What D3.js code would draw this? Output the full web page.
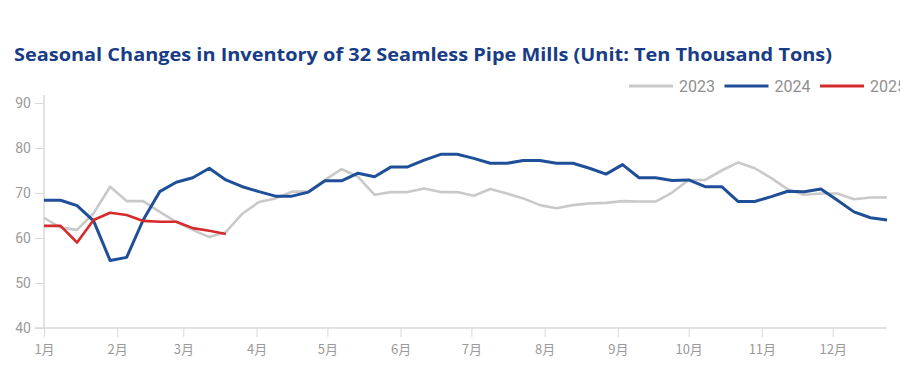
<!DOCTYPE html>
<html><head><meta charset="utf-8">
<script src="https://cdn.jsdelivr.net/npm/d3@7"></script>
<style>body{margin:0;background:#fff;}svg{display:block;}</style>
</head><body><svg id="c" width="900" height="383"></svg>
<script>
const title = "Seasonal Changes in Inventory of 32 Seamless Pipe Mills (Unit: Ten Thousand Tons)";
const seriesNames = ["2023", "2024", "2025"];
const seriesColors = ["#c9c9c9", "#1f4f98", "#d62b2b"];
const yTicks = [40, 50, 60, 70, 80, 90];
const v2023 = [64.5,62.3,61.8,65.5,71.4,68.2,68.2,65.8,63.6,61.8,60.2,61.3,65.4,68.0,68.8,70.3,70.3,72.9,75.3,73.6,69.6,70.2,70.2,71.0,70.2,70.2,69.4,70.9,69.9,68.8,67.3,66.6,67.3,67.7,67.8,68.2,68.1,68.1,70.1,72.9,72.9,75.0,76.8,75.5,73.3,70.8,69.6,69.9,69.9,68.6,69.0,69.0];
const v2024 = [68.4,68.4,67.2,63.8,55.0,55.7,64.0,70.3,72.4,73.4,75.5,72.9,71.4,70.3,69.3,69.3,70.2,72.7,72.7,74.4,73.6,75.8,75.8,77.3,78.6,78.6,77.7,76.6,76.6,77.2,77.2,76.6,76.6,75.5,74.2,76.3,73.4,73.4,72.8,72.9,71.4,71.4,68.1,68.1,69.2,70.4,70.3,70.9,68.4,65.8,64.5,64.0];
const v2025 = [62.7,62.7,59.0,64.0,65.6,65.1,63.8,63.6,63.6,62.2,61.6,60.9];
const values = [v2023, v2024, v2025];

const svg = d3.select("#c");
const weekDate = i => new Date(2023, 0, 1 + 7 * i);
const x = d3.scaleTime().domain([new Date(2023,0,1), new Date(2023,11,24)]).range([44, 887]);
const y = d3.scaleLinear().domain([40, 90]).range([328, 103]);

svg.append("text").attr("x", 14).attr("y", 61)
  .attr("font-family", "'Open Sans', 'Noto Sans', sans-serif").attr("font-weight", "bold")
  .attr("font-size", 18.5).attr("fill", "#183c86")
  .attr("textLength", 818).attr("lengthAdjust", "spacingAndGlyphs").text(title);

// y axis
const ya = svg.append("g").attr("transform", "translate(44,0)")
  .call(d3.axisLeft(y).tickValues(yTicks).tickSize(9).tickPadding(4));
ya.select(".domain").remove();
ya.selectAll(".tick line").attr("stroke", "#d9d9d9");
ya.selectAll(".tick text").attr("fill", "#9a9a9a").attr("font-size", 14)
  .attr("font-family", "Roboto, 'Noto Sans', sans-serif");
svg.append("line").attr("x1", 44).attr("x2", 44).attr("y1", 95).attr("y2", 328)
  .attr("stroke", "#d9d9d9").attr("stroke-width", 1.5);

// x axis
const months = d3.timeMonth.range(new Date(2023,0,1), new Date(2023,11,25));
const xa = svg.append("g").attr("transform", "translate(0,328)")
  .call(d3.axisBottom(x).tickValues(months).tickFormat(d => (d.getMonth()+1) + "月").tickSize(9).tickPadding(8));
xa.select(".domain").remove();
xa.selectAll(".tick line").attr("stroke", "#d9d9d9");
xa.selectAll(".tick text").attr("fill", "#9a9a9a").attr("font-size", 13)
  .attr("font-family", "'Noto Sans CJK SC', sans-serif");
svg.append("line").attr("x1", 35).attr("x2", 887).attr("y1", 328).attr("y2", 328)
  .attr("stroke", "#d9d9d9").attr("stroke-width", 1.5);

const line = d3.line().x((d, i) => x(weekDate(i))).y(d => y(d));
values.forEach((vals, k) => {
  svg.append("path").datum(vals).attr("d", line).attr("fill", "none")
    .attr("stroke", seriesColors[k]).attr("stroke-width", k === 1 ? 3 : 2.6)
    .attr("stroke-linejoin", "round");
});

// legend
const lg = svg.append("g").attr("transform", "translate(629,86)");
seriesNames.forEach((n, k) => {
  const g = lg.append("g").attr("transform", `translate(${k*95.5},0)`);
  g.append("line").attr("x1", 0).attr("x2", 44).attr("y1", 0).attr("y2", 0)
    .attr("stroke", seriesColors[k]).attr("stroke-width", 3);
  g.append("text").attr("x", 50).attr("y", 5.5).attr("fill", "#8f8f8f")
    .attr("font-size", 16).attr("font-family", "Roboto, 'Noto Sans', sans-serif").text(n);
});
</script></body></html>
